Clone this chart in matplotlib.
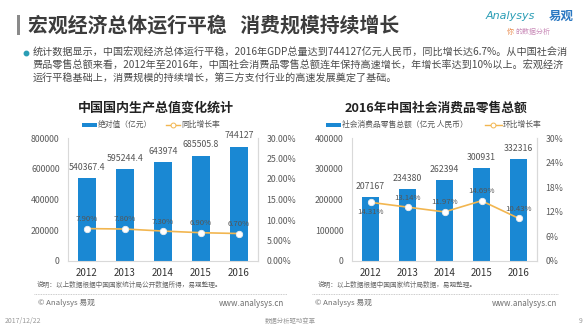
import matplotlib
matplotlib.use("Agg")
import matplotlib.pyplot as plt
from matplotlib.patches import Rectangle
from matplotlib.lines import Line2D

plt.rcParams['font.family'] = ['Noto Sans CJK SC', 'DejaVu Sans']

# ---------------- data ----------------
years = ["2012", "2013", "2014", "2015", "2016"]
gdp_values = [540367.4, 595244.4, 643974, 685505.8, 744127]
gdp_labels = ["540367.4", "595244.4", "643974", "685505.8", "744127"]
gdp_growth = [7.90, 7.80, 7.30, 6.90, 6.70]
retail_values = [207167, 234380, 262394, 300931, 332316]
retail_labels = ["207167", "234380", "262394", "300931", "332316"]
retail_growth = [14.31, 13.14, 11.97, 14.69, 10.43]

gdp_left_ticks = [0, 200000, 400000, 600000, 800000]
gdp_right_ticks = [0, 5, 10, 15, 20, 25, 30]
retail_left_ticks = [0, 100000, 200000, 300000, 400000]
retail_right_ticks = [0, 6, 12, 18, 24, 30]

W, H = 588, 325
BAR = '#1a88d3'
LINE = '#f2b650'
GRAY = '#6e6e6e'

fig = plt.figure(figsize=(W / 100, H / 100), dpi=100)
fig.patch.set_facecolor('white')


def P(x, y):
    return x / W, 1 - y / H


def ftext(x, y, s, **kw):
    fx, fy = P(x, y)
    return fig.text(fx, fy, s, **kw)


# ---------------- header ----------------
fig.add_artist(Rectangle(P(17, 35), 3 / W, 20 / H, transform=fig.transFigure,
                         color='#8a8a8a', lw=0))
ftext(28, 25, "宏观经济总体运行平稳   消费规模持续增长", fontsize=14.3,
      fontweight='bold', color='#3c3c3c', va='center', ha='left')

ftext(486, 16, "Analysys", fontsize=8, style='italic', color='#2a9db5',
      va='center', ha='left', family=['DejaVu Sans'])
ftext(549, 16, "易观", fontsize=9, fontweight='bold', color='#2b78c2',
      va='center', ha='left')
ftext(507, 32, "你", fontsize=5, color='#e8894a', va='center', ha='left')
ftext(515, 32, "的数据分析", fontsize=5, color='#c98bb8', va='center', ha='left',
      style='italic')

# bullet text
fig.add_artist(Line2D([P(26, 53)[0]], [P(26, 53)[1]], marker='o', ms=3.2,
                      color='#2a9db5', transform=fig.transFigure))
bullet_lines = [
    "统计数据显示，中国宏观经济总体运行平稳，2016年GDP总量达到744127亿元人民币，同比增长达6.7%。从中国社会消",
    "费品零售总额来看，2012年至2016年，中国社会消费品零售总额连年保持高速增长，年增长率达到10%以上。宏观经济",
    "运行平稳基础上，消费规模的持续增长，第三方支付行业的高速发展奠定了基础。",
]
for i, line in enumerate(bullet_lines):
    ftext(33, 53 + i * 12.5, line, fontsize=7.25, color='#4a4a4a', va='center',
          ha='left')


# ---------------- charts ----------------
def make_chart(x0, x1, values, vlabels, growth, lticks, rticks, rfmt,
               label_offsets):
    y_top, y_bot = 138, 261
    ax = fig.add_axes([x0 / W, 1 - y_bot / H, (x1 - x0) / W, (y_bot - y_top) / H])
    xs = list(range(len(years)))
    ax.bar(xs, values, width=0.47, color=BAR, zorder=2)
    ax.set_xlim(-0.5, len(years) - 0.5)
    ax.set_ylim(lticks[0], lticks[-1])
    ax.set_yticks(lticks)
    ax.set_yticklabels([str(t) for t in lticks])
    ax.set_xticks(xs)
    ax.set_xticklabels(years)
    ax.tick_params(axis='y', length=0, labelsize=6.3, labelcolor='#5a5a5a', pad=6)
    ax.tick_params(axis='x', length=0, labelsize=7, labelcolor='#333333', pad=5)
    ax.spines['top'].set_visible(False)
    for s in ['left', 'right', 'bottom']:
        ax.spines[s].set_color('#d9d9d9')
        ax.spines[s].set_linewidth(0.8)
    for xi, v, lab in zip(xs, values, vlabels):
        ax.annotate(lab, (xi, v), xytext=(0, 4.5), textcoords='offset points',
                    ha='center', va='bottom', fontsize=6.3, color='#555555')

    ax2 = ax.twinx()
    ax2.set_ylim(rticks[0], rticks[-1])
    ax2.set_yticks(rticks)
    ax2.set_yticklabels([rfmt(t) for t in rticks])
    ax2.tick_params(axis='y', length=0, labelsize=6.3, labelcolor='#5a5a5a', pad=6)
    for s in ['top', 'left', 'bottom']:
        ax2.spines[s].set_visible(False)
    ax2.spines['right'].set_color('#d9d9d9')
    ax2.spines['right'].set_linewidth(0.8)
    ax2.plot(xs, growth, color=LINE, lw=1.2, marker='o', ms=4.6,
             mfc='white', mec='#eeeeee', mew=0.6, zorder=3)
    for xi, g, off in zip(xs, growth, label_offsets):
        ax2.annotate(f"{g:.2f}%", (xi, g), xytext=(0, off), textcoords='offset points',
                     ha='center', va='bottom' if off > 0 else 'top',
                     fontsize=5.6, color='#555555')
    return ax, ax2


make_chart(68, 258, gdp_values, gdp_labels, gdp_growth, gdp_left_ticks,
           gdp_right_ticks, lambda t: f"{t:.2f}%", [4, 4, 4, 4, 4])
make_chart(352, 537, retail_values, retail_labels, retail_growth,
           retail_left_ticks, retail_right_ticks, lambda t: f"{t}%",
           [-4, 4, 4, 4, 4])

# chart titles
ftext(156, 108, "中国国内生产总值变化统计", fontsize=9.4, fontweight='bold',
      color='#222222', ha='center', va='center')
ftext(436, 108, "2016年中国社会消费品零售总额", fontsize=9.2, fontweight='bold',
      color='#222222', ha='center', va='center')


# legends
def legend_bar(x0, x1, y, text):
    fig.add_artist(Rectangle(P(x0, y + 2.2), (x1 - x0) / W, 4.4 / H,
                             transform=fig.transFigure, color=BAR, lw=0))
    ftext(x1 + 1, y, text, fontsize=5.6, color='#555555', ha='left', va='center')


def legend_line(x0, x1, y, text):
    a, b = P(x0, y)
    c, _ = P(x1, y)
    fig.add_artist(Line2D([a, c], [b, b], color=LINE, lw=1.0,
                          transform=fig.transFigure))
    fig.add_artist(Line2D([(a + c) / 2], [b], marker='o', ms=3.5, mfc='white',
                          mec=LINE, mew=0.7, transform=fig.transFigure))
    ftext(x1 + 1, y, text, fontsize=5.6, color='#555555', ha='left', va='center')


legend_bar(82, 97, 125, "绝对值（亿元）")
legend_line(166, 180, 125, "同比增长率")
legend_bar(326, 341, 125, "社会消费品零售总额（亿元 人民币）")
legend_line(485, 502, 125, "环比增长率")

# notes and sources
ftext(37, 285, "说明：以上数据根据中国国家统计局公开数据所得，易观整理。",
      fontsize=4.8, color='#666666', ha='left', va='center')
ftext(318, 285, "说明：以上数据根据中国国家统计局数据，易观整理。",
      fontsize=4.8, color='#666666', ha='left', va='center')
for xa, xb in [(34, 287), (312, 558)]:
    a, b = P(xa, 294)
    c, _ = P(xb, 294)
    fig.add_artist(Line2D([a, c], [b, b], color='#bbbbbb', lw=0.6, ls=(0, (1, 1)),
                          transform=fig.transFigure))
ftext(38, 303, "© Analysys 易观", fontsize=5.6, color=GRAY, ha='left', va='center')
ftext(284, 303, "www.analysys.cn", fontsize=5.8, color=GRAY, ha='right', va='center')
ftext(315, 303, "© Analysys 易观", fontsize=5.6, color=GRAY, ha='left', va='center')
ftext(557, 303, "www.analysys.cn", fontsize=5.8, color=GRAY, ha='right', va='center')

# footer
ftext(5, 321, "2017/12/22", fontsize=5, color='#999999', ha='left', va='center')
ftext(290, 321, "数据分析驱动变革", fontsize=4.6, color='#999999', ha='center', va='center')
ftext(581, 321, "9", fontsize=5, color='#999999', ha='center', va='center')

fig.savefig("out.png", dpi=100, facecolor='white')
